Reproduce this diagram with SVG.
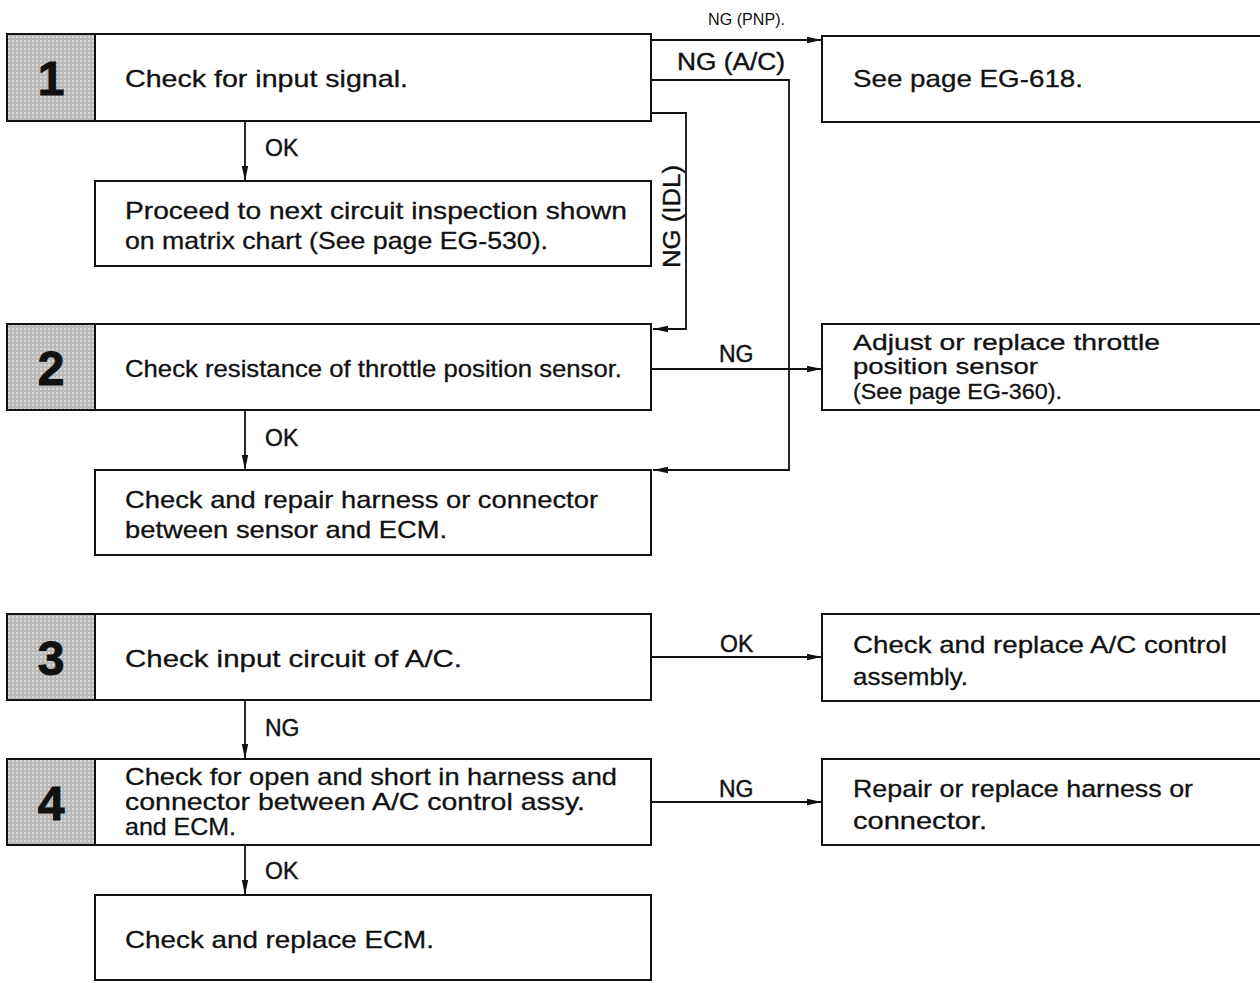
<svg xmlns="http://www.w3.org/2000/svg" width="1260" height="983" viewBox="0 0 1260 983">
<style>
.box{fill:#fff;stroke:#111;stroke-width:2}
.num{fill:url(#halftone);stroke:#111;stroke-width:2}
.t{font-family:"Liberation Sans",Arial,sans-serif;font-size:24px;fill:#111;stroke:#111;stroke-width:0.3}
.t2{font-family:"Liberation Sans",Arial,sans-serif;font-size:22px;fill:#111;stroke:#111;stroke-width:0.3}
.n{font-family:"Liberation Sans",Arial,sans-serif;font-size:48px;font-weight:bold;fill:#111;text-anchor:middle;stroke:#111;stroke-width:1}
.lb{font-family:"Liberation Sans",Arial,sans-serif;font-size:23px;fill:#111;stroke:#111;stroke-width:0.4}
.sm{font-family:"Liberation Sans Narrow","Liberation Sans",Arial,sans-serif;font-size:17px;fill:#111}
.ln{fill:none;stroke:#111;stroke-width:1.8}
</style>
<defs>
<pattern id="halftone" width="4" height="4" patternUnits="userSpaceOnUse">
<rect width="4" height="4" fill="#b9b9b9"/>
<rect x="0" y="0" width="2" height="2" fill="#d8d8d8"/>
</pattern>
<marker id="arr" markerUnits="userSpaceOnUse" markerWidth="16" markerHeight="8" refX="15" refY="4" orient="auto">
<path d="M0,0.8 L15,4 L0,7.2 z" fill="#111"/>
</marker>
</defs>

<g id="connectors">
<path class="ln" d="M651,40 H822" marker-end="url(#arr)"/>
<path class="ln" d="M651,80 H789 V470 H653" marker-end="url(#arr)"/>
<path class="ln" d="M651,113 H686 V329 H653" marker-end="url(#arr)"/>
<path class="ln" d="M245,121 V181" marker-end="url(#arr)"/>
<path class="ln" d="M651,369 H822" marker-end="url(#arr)"/>
<path class="ln" d="M245,410 V470" marker-end="url(#arr)"/>
<path class="ln" d="M651,657 H822" marker-end="url(#arr)"/>
<path class="ln" d="M245,700 V759" marker-end="url(#arr)"/>
<path class="ln" d="M651,802 H822" marker-end="url(#arr)"/>
<path class="ln" d="M245,845 V895" marker-end="url(#arr)"/>
<text class="sm" x="708" y="25" textLength="77" lengthAdjust="spacingAndGlyphs">NG (PNP).</text>
<text class="lb" x="677" y="70" textLength="108" lengthAdjust="spacingAndGlyphs">NG (A/C)</text>
<text class="lb" transform="translate(680,268) rotate(-90)" textLength="103" lengthAdjust="spacingAndGlyphs">NG (IDL)</text>
<text class="lb" x="265" y="156">OK</text>
<text class="lb" x="719" y="362">NG</text>
<text class="lb" x="265" y="446">OK</text>
<text class="lb" x="720" y="652">OK</text>
<text class="lb" x="265" y="736">NG</text>
<text class="lb" x="719" y="797">NG</text>
<text class="lb" x="265" y="879">OK</text>
</g>

<g id="step1">
<rect class="box" x="95" y="34" width="556" height="87"/>
<rect class="num" x="7" y="34" width="88" height="87"/>
<text class="n" x="51" y="95">1</text>
<text class="t" x="125" y="87" textLength="283" lengthAdjust="spacingAndGlyphs">Check for input signal.</text>
</g>

<g id="see618">
<rect class="box" x="822" y="36" width="440" height="86"/>
<text class="t" x="853" y="87" textLength="230" lengthAdjust="spacingAndGlyphs">See page EG-618.</text>
</g>

<g id="proceed">
<rect class="box" x="95" y="181" width="556" height="85"/>
<text class="t" x="125" y="219" textLength="502" lengthAdjust="spacingAndGlyphs">Proceed to next circuit inspection shown</text>
<text class="t" x="125" y="249" textLength="423" lengthAdjust="spacingAndGlyphs">on matrix chart (See page EG-530).</text>
</g>

<g id="step2">
<rect class="box" x="95" y="324" width="556" height="86"/>
<rect class="num" x="7" y="324" width="88" height="86"/>
<text class="n" x="51" y="385">2</text>
<text class="t" x="125" y="377" textLength="497" lengthAdjust="spacingAndGlyphs">Check resistance of throttle position sensor.</text>
</g>

<g id="adjust">
<rect class="box" x="822" y="324" width="440" height="86"/>
<text class="t2" x="853" y="350" textLength="307" lengthAdjust="spacingAndGlyphs">Adjust or replace throttle</text>
<text class="t2" x="853" y="374" textLength="185" lengthAdjust="spacingAndGlyphs">position sensor</text>
<text class="t2" x="853" y="399" textLength="209" lengthAdjust="spacingAndGlyphs">(See page EG-360).</text>
</g>

<g id="repair-harness">
<rect class="box" x="95" y="470" width="556" height="85"/>
<text class="t" x="125" y="508" textLength="473" lengthAdjust="spacingAndGlyphs">Check and repair harness or connector</text>
<text class="t" x="125" y="538" textLength="322" lengthAdjust="spacingAndGlyphs">between sensor and ECM.</text>
</g>

<g id="step3">
<rect class="box" x="95" y="614" width="556" height="86"/>
<rect class="num" x="7" y="614" width="88" height="86"/>
<text class="n" x="51" y="675">3</text>
<text class="t" x="125" y="667" textLength="337" lengthAdjust="spacingAndGlyphs">Check input circuit of A/C.</text>
</g>

<g id="ac-control">
<rect class="box" x="822" y="614" width="440" height="87"/>
<text class="t" x="853" y="653" textLength="374" lengthAdjust="spacingAndGlyphs">Check and replace A/C control</text>
<text class="t" x="853" y="685" textLength="115" lengthAdjust="spacingAndGlyphs">assembly.</text>
</g>

<g id="step4">
<rect class="box" x="95" y="759" width="556" height="86"/>
<rect class="num" x="7" y="759" width="88" height="86"/>
<text class="n" x="51" y="820">4</text>
<text class="t" x="125" y="785" textLength="492" lengthAdjust="spacingAndGlyphs">Check for open and short in harness and</text>
<text class="t" x="125" y="810" textLength="460" lengthAdjust="spacingAndGlyphs">connector between A/C control assy.</text>
<text class="t" x="125" y="835" textLength="111" lengthAdjust="spacingAndGlyphs">and ECM.</text>
</g>

<g id="repair-connector">
<rect class="box" x="822" y="759" width="440" height="86"/>
<text class="t" x="853" y="797" textLength="340" lengthAdjust="spacingAndGlyphs">Repair or replace harness or</text>
<text class="t" x="853" y="829" textLength="134" lengthAdjust="spacingAndGlyphs">connector.</text>
</g>

<g id="replace-ecm">
<rect class="box" x="95" y="895" width="556" height="85"/>
<text class="t" x="125" y="948" textLength="309" lengthAdjust="spacingAndGlyphs">Check and replace ECM.</text>
</g>
</svg>
